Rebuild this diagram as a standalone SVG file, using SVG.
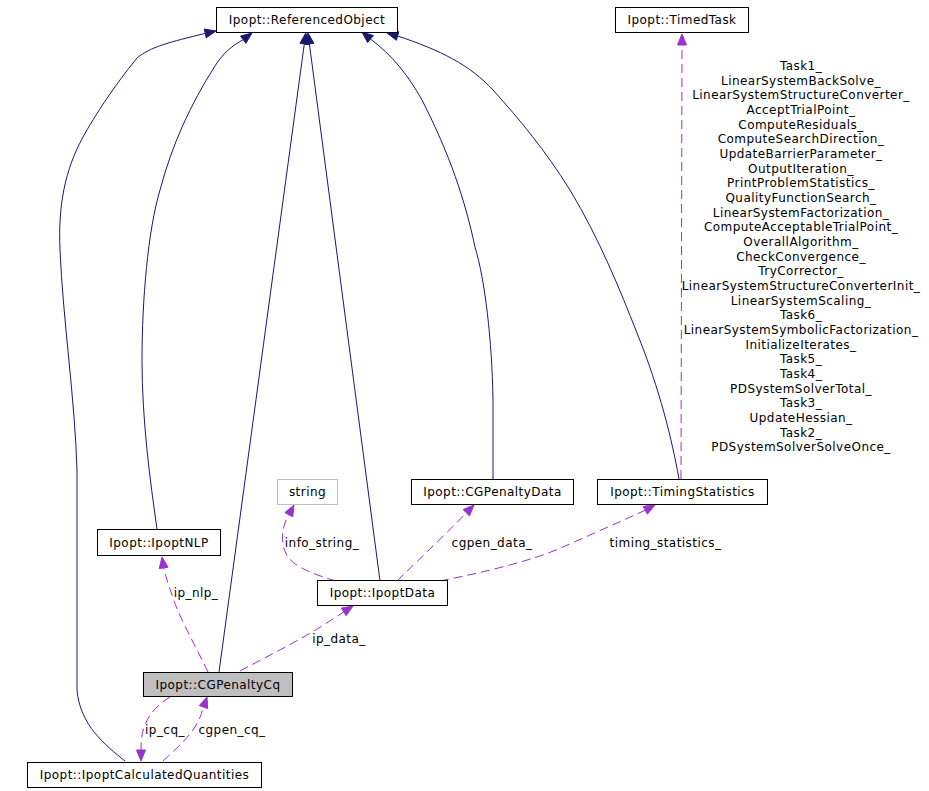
<svg xmlns="http://www.w3.org/2000/svg" width="929" height="791" viewBox="0 0 929 791">
<style>
text{font-family:"DejaVu Sans","Liberation Sans",sans-serif;font-size:12px;letter-spacing:0.45px;fill:#000}
.n text{text-anchor:middle}
.box{fill:#fff;stroke:#000;stroke-width:1}
.gbox{fill:#fff;stroke:#bfbfbf;stroke-width:1}
.cur{fill:#bfbfbf;stroke:#000;stroke-width:1}
.inh{fill:none;stroke:#191970;stroke-width:1}
.inhh{fill:#191970;stroke:#191970;stroke-width:1}
.use{fill:none;stroke:#9a32cd;stroke-width:1;stroke-dasharray:9,5}
.useh{fill:#9a32cd;stroke:#9a32cd;stroke-width:1}
.lbl{text-anchor:middle}
</style>
<rect width="929" height="791" fill="#fff"/>
<g id="edges">
<path class="inh" d="M125,761 C105,745 80,725 77,690 L77,470 C75,400 63,320 60,250 C58,205 65,170 83,137 C95,115 115,85 137,58 C150,47 170,42 205.3,33.4"/>
<polygon class="inhh" points="216,31 206.2,37.8 204.3,29"/>
<path class="inh" d="M157,529 C150,480 142,420 142,360 C142,300 148,230 160,190 C172,145 190,105 215,66 C224,52 232,46 243.2,39.7"/>
<polygon class="inhh" points="252,33 245.9,43.3 240.5,36.1"/>
<path class="inh" d="M219,672 L304.3,43.9"/>
<polygon class="inhh" points="305.8,33 308.8,44.5 299.9,43.3"/>
<path class="inh" d="M380,581 L309.4,43.9"/>
<polygon class="inhh" points="308,33 313.9,43.3 305,44.5"/>
<path class="inh" d="M493,479 L493,400 C492,340 485,280 475,247 C465,200 450,155 422,100 C408,75 392,55 370.5,39"/>
<polygon class="inhh" points="362,32 373.4,35.6 367.6,42.5"/>
<path class="inh" d="M679,479 C672,440 660,390 637,333 C620,290 600,240 570,190 C545,150 520,120 493,90 C470,65 440,50 397.6,36"/>
<polygon class="inhh" points="387,33 398.8,31.7 396.4,40.3"/>

<path class="use" d="M681,479 L682,45"/>
<polygon class="useh" points="682,34 686.5,45 677.5,45"/>
<text class="lbl"><tspan x="801" y="70">Task1_</tspan><tspan x="801" dy="14.67">LinearSystemBackSolve_</tspan><tspan x="801" dy="14.67">LinearSystemStructureConverter_</tspan><tspan x="801" dy="14.67">AcceptTrialPoint_</tspan><tspan x="801" dy="14.67">ComputeResiduals_</tspan><tspan x="801" dy="14.67">ComputeSearchDirection_</tspan><tspan x="801" dy="14.67">UpdateBarrierParameter_</tspan><tspan x="801" dy="14.67">OutputIteration_</tspan><tspan x="801" dy="14.67">PrintProblemStatistics_</tspan><tspan x="801" dy="14.67">QualityFunctionSearch_</tspan><tspan x="801" dy="14.67">LinearSystemFactorization_</tspan><tspan x="801" dy="14.67">ComputeAcceptableTrialPoint_</tspan><tspan x="801" dy="14.67">OverallAlgorithm_</tspan><tspan x="801" dy="14.67">CheckConvergence_</tspan><tspan x="801" dy="14.67">TryCorrector_</tspan><tspan x="801" dy="14.67">LinearSystemStructureConverterInit_</tspan><tspan x="801" dy="14.67">LinearSystemScaling_</tspan><tspan x="801" dy="14.67">Task6_</tspan><tspan x="801" dy="14.67">LinearSystemSymbolicFactorization_</tspan><tspan x="801" dy="14.67">InitializeIterates_</tspan><tspan x="801" dy="14.67">Task5_</tspan><tspan x="801" dy="14.67">Task4_</tspan><tspan x="801" dy="14.67">PDSystemSolverTotal_</tspan><tspan x="801" dy="14.67">Task3_</tspan><tspan x="801" dy="14.67">UpdateHessian_</tspan><tspan x="801" dy="14.67">Task2_</tspan><tspan x="801" dy="14.67">PDSystemSolverSolveOnce_</tspan></text>

<path class="use" d="M208,672 C195,645 178,615 172,595 C168,583 166,578 163.7,568"/>
<polygon class="useh" points="162,557 168.1,567.2 159.2,568.6"/>
<text class="lbl" x="196" y="597">ip_nlp_</text>

<path class="use" d="M240,671 C270,655 300,640 322,626 L343.8,611.9"/>
<polygon class="useh" points="353,606 346.2,615.7 341.3,608.1"/>
<text class="lbl" x="339" y="643">ip_data_</text>

<path class="use" d="M336,581 C315,575 295,567 288,557 C280,545 281,528 288.8,514.7"/>
<polygon class="useh" points="294,505 292.8,516.8 284.9,512.6"/>
<text class="lbl" x="322" y="547">info_string_</text>

<path class="use" d="M397,581 C410,568 440,540 466.3,512.9"/>
<polygon class="useh" points="474,505 469.5,515.9 463.1,509.6"/>
<text class="lbl" x="492" y="547">cgpen_data_</text>

<path class="use" d="M440,581 C475,574 530,562 563,547 C590,535 615,524 645.3,510.2"/>
<polygon class="useh" points="655,505 647.4,514.2 643.2,506.3"/>
<text class="lbl" x="665.5" y="547">timing_statistics_</text>

<path class="use" d="M170,697 C160,703 150,712 145,725 C141,735 141,742 141,750"/>
<polygon class="useh" points="141,761 145.5,750 136.5,750"/>
<text class="lbl" x="165" y="734">ip_cq_</text>

<path class="use" d="M163,761 C175,750 188,738 195,727 C199,720 201,716 203.3,707.3"/>
<polygon class="useh" points="207,697 207.7,708.6 199.3,705.5"/>
<text class="lbl" x="232" y="734">cgpen_cq_</text>
</g>
<g id="node_ReferencedObject" class="n"><rect class="box" x="216.5" y="7.5" width="181" height="25"/><text x="307" y="24">Ipopt::ReferencedObject</text></g>
<g id="node_TimedTask" class="n"><rect class="box" x="615.5" y="7.5" width="133" height="25"/><text x="682" y="24">Ipopt::TimedTask</text></g>
<g id="node_string" class="n"><rect class="gbox" x="277.5" y="479.5" width="60" height="25"/><text x="307.5" y="496">string</text></g>
<g id="node_CGPenaltyData" class="n"><rect class="box" x="411.5" y="479.5" width="162" height="25"/><text x="492.5" y="496">Ipopt::CGPenaltyData</text></g>
<g id="node_TimingStatistics" class="n"><rect class="box" x="597.5" y="479.5" width="170" height="25"/><text x="682.5" y="496">Ipopt::TimingStatistics</text></g>
<g id="node_IpoptNLP" class="n"><rect class="box" x="97.5" y="529.5" width="123" height="26"/><text x="159" y="547">Ipopt::IpoptNLP</text></g>
<g id="node_IpoptData" class="n"><rect class="box" x="317.5" y="580.5" width="130" height="25"/><text x="382.5" y="597">Ipopt::IpoptData</text></g>
<g id="node_CGPenaltyCq" class="n"><rect class="cur" x="143.5" y="672.5" width="149" height="24"/><text x="218" y="689">Ipopt::CGPenaltyCq</text></g>
<g id="node_IpoptCalculatedQuantities" class="n"><rect class="box" x="27.5" y="762.5" width="234" height="25"/><text x="144.5" y="779">Ipopt::IpoptCalculatedQuantities</text></g>
</svg>
